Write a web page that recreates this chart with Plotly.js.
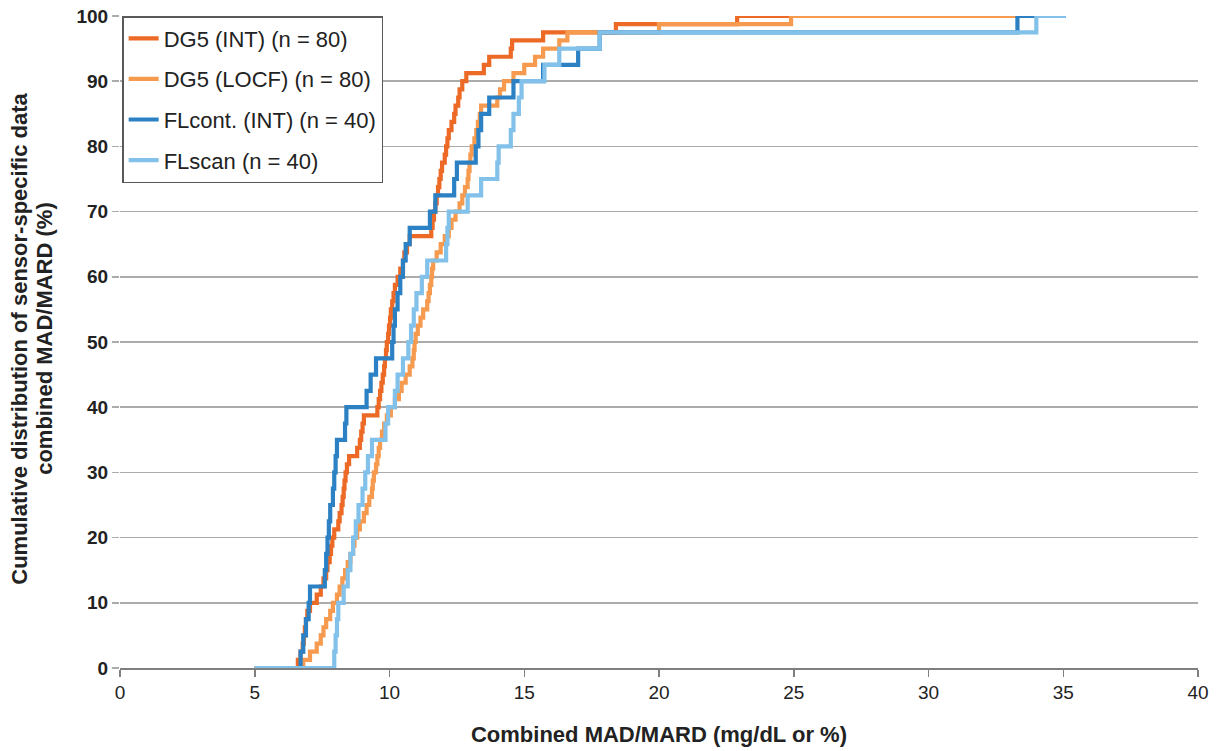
<!DOCTYPE html>
<html>
<head>
<meta charset="utf-8">
<script src="https://cdn.plot.ly/plotly-3.0.1.min.js"></script>
<style>html,body{margin:0;padding:0;background:#fff;}#chart{width:1219px;height:751px;}</style>
</head>
<body>
<div id="chart"></div>
<script>
// Sorted per-sensor combined MAD/MARD values (ECDF steps)
const seriesNames = ["DG5 (INT) (n = 80)", "DG5 (LOCF) (n = 80)", "FLcont. (INT) (n = 40)", "FLscan (n = 40)"];
const seriesColors = ["#EC6A26", "#F59A4E", "#2B81C3", "#82C1EA"];
const xStart = 5;
const xEnd = 35.1;

const dg5Int = [6.6, 6.7, 6.78, 6.82, 6.86, 6.9, 6.95, 7.05, 7.3, 7.45,
  7.55, 7.65, 7.7, 7.78, 7.83, 7.88, 7.95, 8.1, 8.15, 8.22,
  8.26, 8.3, 8.33, 8.37, 8.42, 8.5, 8.8, 8.9, 8.95, 9.0,
  9.05, 9.55, 9.6, 9.65, 9.7, 9.75, 9.8, 9.83, 9.87, 9.9,
  9.95, 9.98, 10.02, 10.05, 10.1, 10.15, 10.2, 10.3, 10.4, 10.5,
  10.55, 10.65, 10.75, 11.55, 11.6, 11.65, 11.7, 11.75, 11.8, 11.85,
  11.9, 11.95, 12.05, 12.1, 12.15, 12.2, 12.3, 12.4, 12.45, 12.55,
  12.6, 12.7, 12.85, 13.5, 13.7, 14.5, 14.55, 15.7, 18.4, 22.9];

const dg5Locf = [6.8, 7.05, 7.3, 7.45, 7.55, 7.65, 7.8, 7.9, 8.05, 8.15,
  8.25, 8.35, 8.45, 8.55, 8.65, 8.7, 8.8, 8.9, 9.05, 9.15,
  9.25, 9.35, 9.38, 9.42, 9.5, 9.55, 9.6, 9.65, 9.72, 9.8,
  9.9, 10.05, 10.2, 10.35, 10.45, 10.6, 10.75, 10.85, 10.9, 10.93,
  10.97, 11.05, 11.15, 11.25, 11.4, 11.45, 11.5, 11.55, 11.58, 11.62,
  11.75, 11.9, 12.05, 12.2, 12.3, 12.45, 12.6, 12.7, 12.8, 12.9,
  12.93, 12.97, 13.0, 13.05, 13.15, 13.22, 13.28, 13.35, 13.4, 14.0,
  14.1, 14.25, 14.6, 15.0, 15.4, 15.7, 16.3, 16.6, 20.0, 24.9];

const flCont = [6.7, 6.8, 6.9, 7.0, 7.05, 7.6, 7.65, 7.7, 7.75, 7.8,
  7.9, 7.95, 8.0, 8.05, 8.35, 8.4, 9.15, 9.3, 9.5, 10.1,
  10.15, 10.2, 10.3, 10.4, 10.5, 10.6, 10.75, 11.5, 11.7, 12.4,
  12.5, 13.2, 13.3, 13.4, 13.7, 14.6, 15.7, 17.0, 17.8, 33.3];

const flScan = [7.95, 8.0, 8.05, 8.1, 8.3, 8.45, 8.55, 8.65, 8.75, 8.85,
  9.0, 9.1, 9.2, 9.35, 9.85, 9.95, 10.2, 10.3, 10.5, 10.7,
  10.8, 10.9, 11.0, 11.2, 11.4, 12.1, 12.15, 12.2, 12.9, 13.4,
  14.0, 14.05, 14.5, 14.6, 14.8, 14.9, 15.75, 16.3, 17.8, 34.0];

const xTicks = [0, 5, 10, 15, 20, 25, 30, 35, 40];
const yTicks = [0, 10, 20, 30, 40, 50, 60, 70, 80, 90, 100];
const yTitleLines = ["Cumulative distribution of sensor-specific data", "combined MAD/MARD (%)"];
const xTitle = "Combined MAD/MARD (mg/dL or %)";

function ecdf(vals) {
  const n = vals.length;
  const xs = [xStart].concat(vals, [xEnd]);
  const ys = [0];
  for (let i = 1; i <= n; i++) ys.push(100 * i / n);
  ys.push(100);
  return {x: xs, y: ys};
}

const allSeries = [dg5Int, dg5Locf, flCont, flScan];
const traces = allSeries.map((s, i) => {
  const d = ecdf(s);
  return {
    x: d.x, y: d.y, type: 'scatter', mode: 'lines',
    line: {shape: 'hv', color: seriesColors[i], width: 4.2},
    name: seriesNames[i], legendgroup: 'g' + i
  };
});

const titleFont = {family: 'Liberation Sans Narrow, Arial Narrow, sans-serif', size: 22, color: '#222', weight: 'bold'};

const layout = {
  width: 1219, height: 751,
  margin: {l: 120, r: 21, t: 16, b: 83},
  paper_bgcolor: '#fff', plot_bgcolor: '#fff',
  showlegend: true,
  legend: {
    x: 0.002, y: 1, xanchor: 'left', yanchor: 'top',
    bgcolor: '#fff', bordercolor: '#595959', borderwidth: 1.5,
    font: {family: 'Liberation Sans, Arial, sans-serif', size: 22, color: '#222'},
    tracegroupgap: 9, traceorder: 'grouped'
  },
  xaxis: {
    range: [0, 40], tickvals: xTicks, ticktext: xTicks.map(String),
    showgrid: false, zeroline: false,
    showline: true, linecolor: '#7f7f7f', linewidth: 1.5,
    ticks: 'outside', ticklen: 7, tickcolor: '#7f7f7f', tickwidth: 1.5,
    tickfont: {family: 'Liberation Sans Narrow, Arial Narrow, sans-serif', size: 19, color: '#222'},
    title: {text: xTitle, standoff: 24, font: titleFont},
    fixedrange: true
  },
  yaxis: {
    range: [0, 100], tickvals: yTicks, ticktext: yTicks.map(String),
    showgrid: true, gridcolor: '#ababab', gridwidth: 1.5,
    zeroline: false, showline: false,
    ticks: 'outside', ticklen: 7, tickcolor: '#ababab', tickwidth: 1.5,
    tickfont: {family: 'Liberation Sans Narrow, Arial Narrow, sans-serif', size: 19, color: '#222', weight: 'bold'},
    fixedrange: true
  },
  annotations: [
    {text: yTitleLines[0], xref: 'paper', yref: 'paper', x: -0.0928, y: 0.505,
     textangle: -90, showarrow: false, xanchor: 'center', yanchor: 'middle', font: titleFont},
    {text: yTitleLines[1], xref: 'paper', yref: 'paper', x: -0.0695, y: 0.505,
     textangle: -90, showarrow: false, xanchor: 'center', yanchor: 'middle', font: titleFont}
  ]
};

Plotly.newPlot('chart', traces, layout, {displayModeBar: false, staticPlot: true});
</script>
</body>
</html>
